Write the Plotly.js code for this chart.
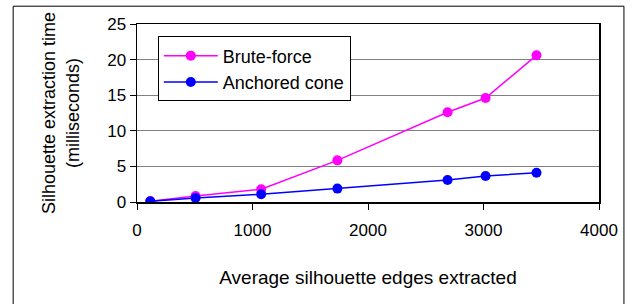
<!DOCTYPE html>
<html>
<head>
<meta charset="utf-8">
<script src="https://cdn.plot.ly/plotly-3.0.1.min.js"></script>
<style>html,body{margin:0;padding:0;background:#fff;}#chart{width:638px;height:304px;}</style>
</head>
<body>
<div id="chart"></div>
<script>
var edges = [115, 507, 1075, 1735, 2689, 3018, 3459];
var bruteForce = [0.1, 0.85, 1.8, 5.85, 12.6, 14.6, 20.6];
var anchoredCone = [0.1, 0.57, 1.08, 1.88, 3.1, 3.65, 4.1];
var seriesNames = ["Brute-force", "Anchored cone"];
var xTitle = "Average silhouette edges extracted";
var yTitle = "Silhouette extraction time<br>(milliseconds)";

var font = "Arial, 'Liberation Sans', sans-serif";
var traces = [
  {x: edges, y: bruteForce, name: seriesNames[0], type: "scatter", mode: "lines+markers",
   line: {color: "#ff00ff", width: 1.5}, marker: {color: "#ff00ff", size: 10}},
  {x: edges, y: anchoredCone, name: seriesNames[1], type: "scatter", mode: "lines+markers",
   line: {color: "#0000ff", width: 1.5}, marker: {color: "#0000ff", size: 10}}
];
var layout = {
  width: 638, height: 304,
  margin: {l: 137, r: 39, t: 24, b: 102},
  paper_bgcolor: "#fff", plot_bgcolor: "#fff",
  font: {family: font, size: 17, color: "#000"},
  showlegend: true,
  legend: {x: 0.045, y: 0.93, xanchor: "left", yanchor: "top", bgcolor: "#fff",
           bordercolor: "#000", borderwidth: 1, font: {size: 18}, tracegroupgap: 0,
           itemwidth: 54},
  xaxis: {range: [0, 4000], dtick: 1000, showgrid: false, zeroline: false,
          showline: true, linecolor: "#000", linewidth: 1.5, mirror: true,
          ticks: "outside", ticklen: 6, tickcolor: "#000", ticklabelstandoff: 6,
          tickfont: {size: 17},
          title: {text: xTitle, font: {size: 19}, standoff: 32}},
  yaxis: {range: [0, 25], dtick: 5, showgrid: true, gridcolor: "#808080", gridwidth: 1,
          zeroline: false, showline: true, linecolor: "#000", linewidth: 1.5, mirror: true,
          ticks: "outside", ticklen: 6, tickcolor: "#000", tickfont: {size: 17},
          title: {text: yTitle, font: {size: 18}, standoff: 23}},
  shapes: [{type: "rect", xref: "paper", yref: "paper",
            x0: -0.268, x1: 1.054, y0: -0.75, y1: 1.1,
            line: {color: "#000", width: 1}, fillcolor: "rgba(0,0,0,0)", layer: "below"}]
};
Plotly.newPlot("chart", traces, layout, {displayModeBar: false, staticPlot: true});
</script>
</body>
</html>
